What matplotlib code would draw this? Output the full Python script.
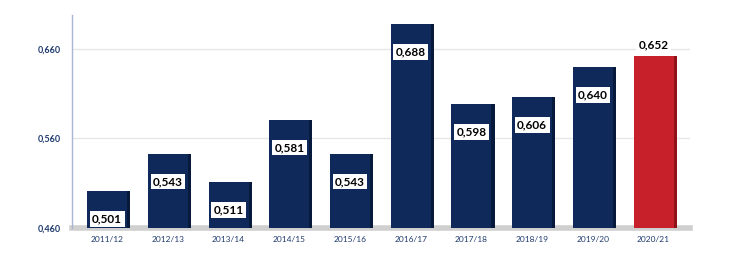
import numpy as np
import matplotlib.pyplot as plt

seasons = ["2011/12", "2012/13", "2013/14", "2014/15", "2015/16",
           "2016/17", "2017/18", "2018/19", "2019/20", "2020/21"]
values = [0.501, 0.543, 0.511, 0.581, 0.543, 0.688, 0.598, 0.606, 0.640, 0.652]
y_ticks = [0.460, 0.560, 0.660]

NAVY = "#0f2a5a"
NAVY_SIDE = "#081a3c"
RED = "#c8202a"
RED_SIDE = "#8f1219"
LABEL_BLUE = "#1f3a6e"

plt.rcParams["font.family"] = ["Lato", "DejaVu Sans"]


def fmt(v):
    return f"{v:.3f}".replace(".", ",")


W, H = 729, 271
fig = plt.figure(figsize=(W / 100, H / 100), dpi=100)
ax = fig.add_axes([72 / W, 1 - 228 / H, (690 - 72) / W, (228 - 15) / H])

x = np.arange(len(values))
colors = [NAVY] * (len(values) - 1) + [RED]
sides = [NAVY_SIDE] * (len(values) - 1) + [RED_SIDE]
bw = 0.66
base = y_ticks[0]

# side face (fake depth) then the front face
ax.bar(x + 0.05, np.array(values) - base, bottom=base, width=bw,
       color=sides, zorder=2)
ax.bar(x, np.array(values) - base, bottom=base, width=bw,
       color=colors, zorder=3)

# floor shadow
ax.axhline(base, color="#cfcfcf", lw=4, zorder=1, clip_on=False)

for yt in y_ticks[1:]:
    ax.axhline(yt, color="#e6e6e6", lw=1.0, zorder=0)

for i, v in enumerate(values):
    last = i == len(values) - 1
    ax.annotate(fmt(v), (x[i], v), xytext=(0, 8 if last else -20),
                textcoords="offset points",
                ha="center", va="center", fontsize=8.5, fontweight="bold",
                color="black", zorder=5,
                bbox=dict(boxstyle="square,pad=0.2", fc="white", ec="none"))

ax.set_xlim(-0.58, 9.6)
ax.set_ylim(base, base + 213 / 895)
ax.set_yticks(y_ticks)
ax.set_yticklabels([fmt(t) for t in y_ticks], fontsize=6.5, color=LABEL_BLUE,
                   fontweight="bold")
ax.set_xticks(x)
ax.set_xticklabels(seasons, fontsize=6, color=LABEL_BLUE)
ax.tick_params(axis="both", length=0)
ax.tick_params(axis="y", pad=8)
ax.tick_params(axis="x", pad=6)

for s in ["top", "right", "bottom"]:
    ax.spines[s].set_visible(False)
ax.spines["left"].set_color("#a9b6d3")
ax.spines["left"].set_linewidth(1.0)

fig.savefig("out.png", dpi=100, facecolor="white")
